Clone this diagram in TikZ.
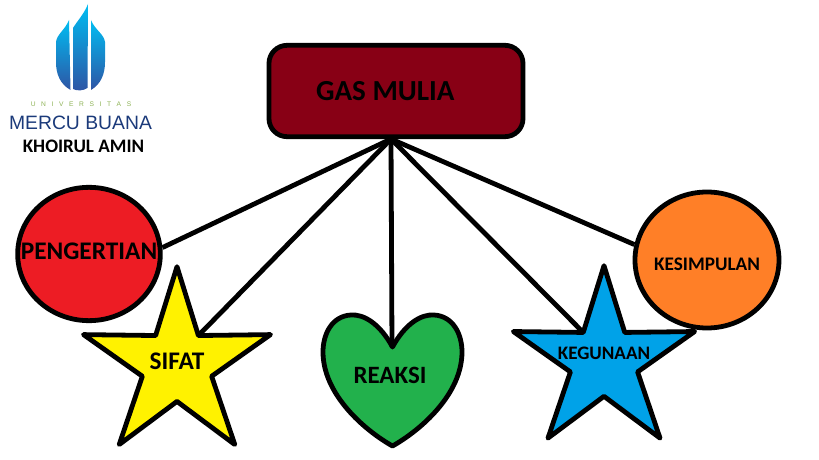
\documentclass[tikz,border=0pt]{standalone}
\usepackage{fontspec}
\setmainfont{Carlito}
\newfontfamily\logofont{Liberation Sans}
\usetikzlibrary{positioning,shapes.geometric}
\definecolor{titlered}{HTML}{880015}
\definecolor{circlered}{HTML}{ED1C24}
\definecolor{staryellow}{HTML}{FFF200}
\definecolor{heartgreen}{HTML}{22B14C}
\definecolor{starblue}{HTML}{00A2E8}
\definecolor{circleorange}{HTML}{FF7F27}
\definecolor{logocyan}{HTML}{00BDF2}
\definecolor{logomid}{HTML}{0B86C8}
\definecolor{logoblue}{HTML}{2E55A5}
\definecolor{logonavy}{HTML}{1B3A7A}
\definecolor{logogreen}{HTML}{8DB255}

\begin{document}
\begin{tikzpicture}[
  x=0.75pt,y=-0.75pt,
  outline/.style={draw=black,line width=3.6pt,line join=round},
  titlebox/.style={outline,rounded corners=13.5pt,fill=titlered,minimum width=190.5pt,minimum height=68.5pt,font=\bfseries\fontsize{21.8}{21.8}\selectfont},
  roundbox/.style={outline,ellipse,inner sep=0pt},
  starbox/.style={outline,star,star points=5,star point ratio=2.7,inner sep=0pt,outer sep=0pt,minimum size=147.5pt},
  lbl/.style={font=\bfseries\fontsize{#1}{#1}\selectfont,text=black,inner sep=0pt},
  lbl/.default=14,
  link/.style={line width=3.6pt},
  drop/.style={top color=logocyan,middle color=logomid,bottom color=logoblue,draw=none}
]
  \useasboundingbox (0,0) rectangle (819,460);
  % logo
  \shade[drop] (73,28) .. controls (78,20) and (84,14) .. (88,4) -- (87.5,88) .. controls (83,91) and (77,91) .. (73,89) -- cycle;
  \shade[drop] (69,20) -- (70.5,90) .. controls (60,84) and (56,74) .. (56,62) -- (56,42) .. controls (57,34) and (65,30) .. (69,20) -- cycle;
  \shade[drop] (91,20) -- (91,90) .. controls (101,84) and (105,74) .. (105,62) -- (105,42) .. controls (104,34) and (95,30) .. (91,20) -- cycle;
  \node[font=\logofont\fontsize{5}{5}\selectfont,text=logogreen,inner sep=0pt] (univ) at (81,104) {U\hspace{4.2pt}N\hspace{4.2pt}I\hspace{4.2pt}V\hspace{4.2pt}E\hspace{4.2pt}R\hspace{4.2pt}S\hspace{4.2pt}I\hspace{4.2pt}T\hspace{4.2pt}A\hspace{4.2pt}S};
  \node[font=\logofont\fontsize{14.5}{14.5}\selectfont,text=logonavy,inner sep=0pt] (mercu) at (80.5,123) {MERCU BUANA};
  \node[lbl=14.3] (author) at (83.5,146) {KHOIRUL AMIN};
  % main boxes
  \node[titlebox] (title) at (396,91) {\hspace{-16pt}GAS MULIA};
  \node[roundbox,fill=circlered,minimum width=107pt,minimum height=100pt,label={[lbl=19,yshift=2pt]center:PENGERTIAN}] (pengertian) at (89,254) {};
  \node[roundbox,fill=circleorange,minimum width=108pt,minimum height=102pt,label={[lbl=14.4,yshift=-3pt]center:KESIMPULAN}] (kesimpulan) at (707,260) {};
  \node[starbox,fill=staryellow,label={[lbl=19,yshift=3pt]center:SIFAT}] (sifat) at (177,365) {};
  \node[starbox,fill=starblue,minimum size=143pt,label={[lbl=14.3,yshift=5.5pt]center:KEGUNAAN}] (kegunaan) at (604,361) {};
  \draw[outline,fill=heartgreen] (392.5,347) .. controls (380,324) and (364,314) .. (351,315)
    .. controls (332,316) and (323,334) .. (323,352)
    .. controls (323,394) and (364,430) .. (392.5,446)
    .. controls (421,430) and (462,394) .. (462,352)
    .. controls (462,334) and (453,316) .. (434,315)
    .. controls (421,314) and (405,324) .. (392.5,347) -- cycle;
  \coordinate (dip) at (392,347);
  \node[lbl=18.7] (reaksi) at (390,375) {REAKSI};
  % links
  \coordinate (hub) at (391,139);
  \draw[link] (hub) -- (pengertian.5);
  \draw[link] (hub) -- (sifat.inner point 5);
  \draw[link] (hub) -- (dip);
  \draw[link] (hub) -- (kegunaan.inner point 1);
  \draw[link] (hub) -- (kesimpulan.168);
\end{tikzpicture}
\end{document}
